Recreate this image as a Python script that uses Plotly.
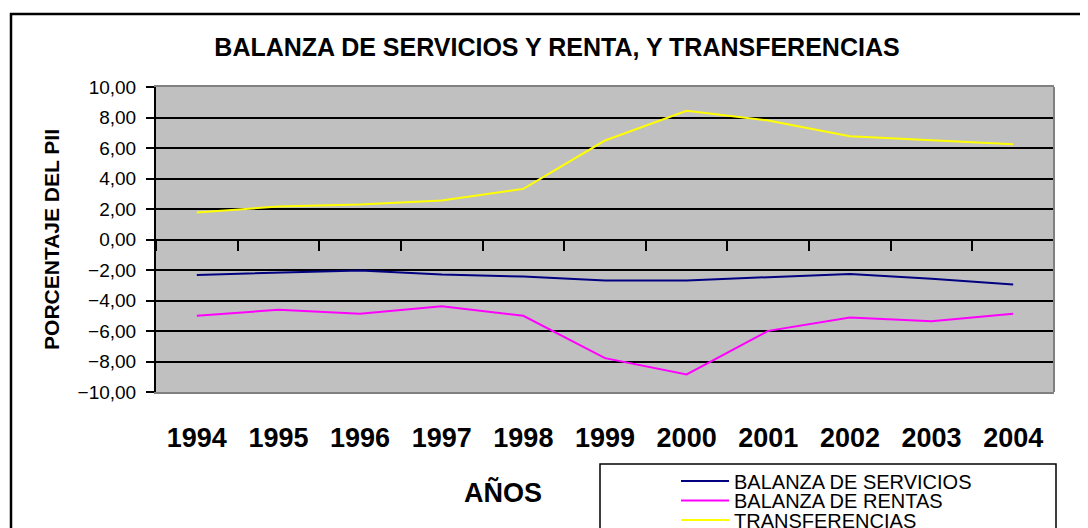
import plotly.graph_objects as go

years = ["1994", "1995", "1996", "1997", "1998", "1999", "2000", "2001", "2002", "2003", "2004"]
servicios = [-2.32, -2.19, -2.03, -2.30, -2.43, -2.69, -2.69, -2.47, -2.27, -2.58, -2.95]
rentas = [-5.00, -4.61, -4.87, -4.37, -5.00, -7.78, -8.85, -5.99, -5.11, -5.36, -4.87]
transferencias = [1.77, 2.16, 2.30, 2.56, 3.32, 6.49, 8.44, 7.80, 6.77, 6.49, 6.25]

names = ["BALANZA DE SERVICIOS", "BALANZA DE RENTAS", "TRANSFERENCIAS"]
colors = ["#000080", "#FF00FF", "#FFFF00"]
series = [servicios, rentas, transferencias]
legends = ["legend", "legend2", "legend3"]
xaxes = ["x", "x", "x2"]

OFF = 8  # page body margin
W, H = 1088 - OFF, 528 - OFF
PL, PR, PT, PB = 156, 1054, 87, 392  # plot area in screen pixels
L, R, T, B = PL - OFF, W - (PR - OFF), PT - OFF, H - (PB - OFF)
pw, ph = W - L - R, H - T - B

def px_x(px):
    return (px - OFF - L) / pw

def px_y(py):
    return (H - B - (py - OFF)) / ph

FONT = "Arial, 'Liberation Sans', sans-serif"

fig = go.Figure()
for name, col, vals, lg, xa in zip(names, colors, series, legends, xaxes):
    fig.add_trace(go.Scatter(x=years, y=vals, mode="lines", name=name, xaxis=xa,
                             line=dict(color=col, width=2), legend=lg))

ymin, ymax = -10, 10
zero_pos = (0 - ymin) / (ymax - ymin)

leg_common = dict(bgcolor="rgba(0,0,0,0)", borderwidth=0, xanchor="left", yanchor="middle",
                  font=dict(family=FONT, size=20, color="black"), itemwidth=48)
row_y = [481, 500.5, 520]
leg_x = px_x(676)

fig.update_layout(
    width=W, height=H,
    margin=dict(l=L, r=R, t=T, b=B, autoexpand=False),
    paper_bgcolor="white", plot_bgcolor="#C0C0C0",
    separators=",.",
    font=dict(family=FONT, color="black"),
    title=dict(text="<b>BALANZA DE SERVICIOS Y RENTA, Y TRANSFERENCIAS</b>",
               x=(557 - OFF) / W, xanchor="center", xref="container",
               y=1 - (47 - OFF) / H, yanchor="middle", yref="container",
               font=dict(family=FONT, size=25, color="black")),
    xaxis=dict(type="category", categoryarray=years, range=[-0.5, len(years) - 0.5],
               ticks="", showgrid=False, zeroline=False,
               showline=True, linecolor="#808080", linewidth=2, mirror=True,
               tickfont=dict(family=FONT, size=27, color="black", weight="bold"),
               ticklabelstandoff=21),
    xaxis2=dict(type="category", categoryarray=years, overlaying="x", anchor="free",
                position=zero_pos, range=[-0.5, len(years) - 0.5], tickson="boundaries",
                ticks="outside", ticklen=10, tickwidth=2, tickcolor="black",
                showticklabels=False, showgrid=False, zeroline=False, showline=False),
    yaxis=dict(range=[ymin, ymax], dtick=2, tickformat=".2f",
               ticks="outside", ticklen=8, tickwidth=2, tickcolor="black",
               showgrid=True, gridcolor="black", gridwidth=1.5,
               zeroline=True, zerolinecolor="black", zerolinewidth=1.5,
               showline=True, linecolor="black", linewidth=2,
               tickfont=dict(family=FONT, size=19, color="black"),
               ticklabelstandoff=6,
               title=dict(text="<b>PORCENTAJE DEL PII</b>", standoff=12,
                          font=dict(family=FONT, size=21, color="black"))),
    legend=dict(x=leg_x, y=px_y(row_y[0]), **leg_common),
    legend2=dict(x=leg_x, y=px_y(row_y[1]), **leg_common),
    legend3=dict(x=leg_x, y=px_y(row_y[2]), **leg_common),
    showlegend=True,
)

fig.add_annotation(text="<b>AÑOS</b>", xref="paper", yref="paper",
                   x=px_x(503), y=px_y(493), xanchor="center", yanchor="middle",
                   showarrow=False, font=dict(family=FONT, size=27, color="black"))

# right edge of plot frame
fig.add_shape(type="line", xref="paper", yref="paper", x0=1, x1=1, y0=0, y1=1,
              line=dict(color="#808080", width=2))
# outer chart border
fig.add_shape(type="rect", xref="paper", yref="paper",
              x0=px_x(11), x1=px_x(1088 + 40), y0=px_y(528 + 40), y1=px_y(14),
              line=dict(color="black", width=2.5), fillcolor="rgba(0,0,0,0)")
# legend box
fig.add_shape(type="rect", xref="paper", yref="paper",
              x0=px_x(600), x1=px_x(1056), y0=px_y(528 + 40), y1=px_y(464),
              line=dict(color="black", width=1.5), fillcolor="rgba(0,0,0,0)")

fig.write_html("out.html")
